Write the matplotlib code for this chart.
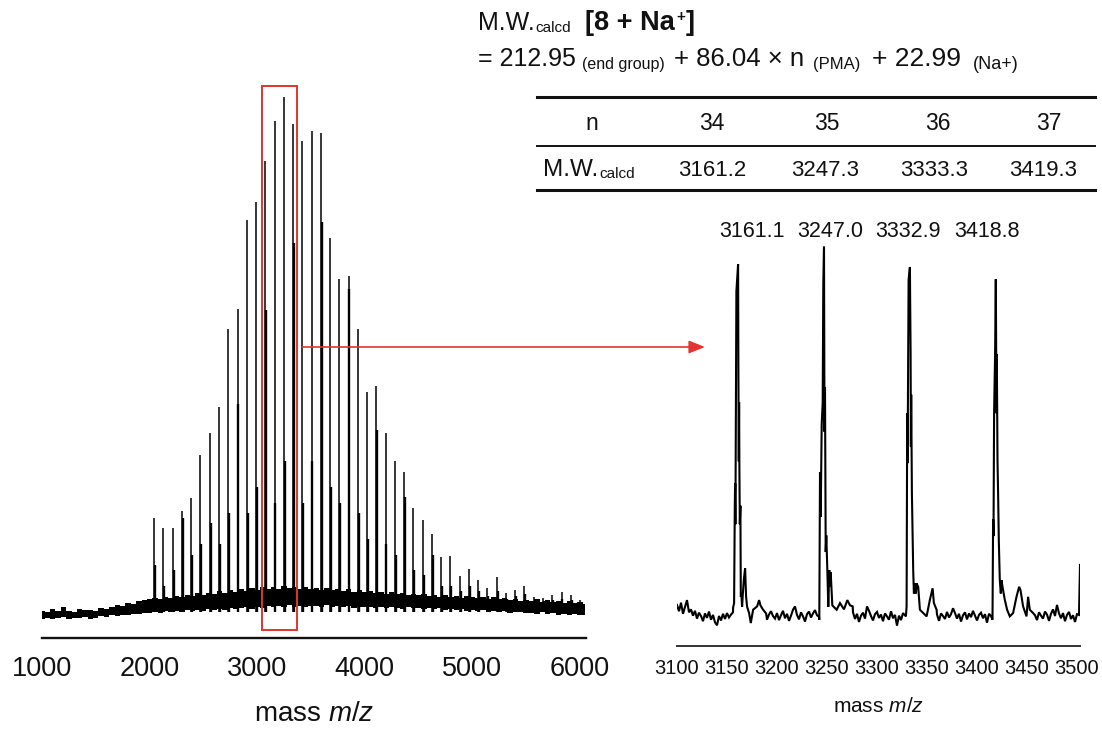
import numpy as np
import matplotlib
matplotlib.use("Agg")
import matplotlib.pyplot as plt
from matplotlib.patches import Rectangle, FancyArrowPatch
from matplotlib.lines import Line2D

# ---------------------------------------------------------------- data
# [8 + Na+] series: M = end group + n * repeat unit + Na+
end_group = 212.95
pma_unit = 86.04
na_ion = 22.99

# full spectrum: degree of polymerisation and relative intensities (%)
n_left = list(range(21, 68))
left_height = [19.0, 17.2, 17.1, 20.4, 22.8, 31.2, 35.4, 40.4, 55.4, 59.2,
               76.3, 79.8, 87.7, 95.5, 100.0, 94.8, 91.6, 93.4, 93.1, 72.9,
               65.0, 65.6, 55.4, 43.2, 44.5, 35.4, 30.1, 27.8, 20.9, 18.7,
               16.0, 11.5, 11.7, 7.8, 9.2, 7.2, 5.5, 7.6, 4.6, 5.2,
               6.0, 3.9, 3.6, 4.2, 4.9, 4.2, 3.3]
# broadened lower part of each peak (isotope envelope)
left_body = [10.0, 6.0, 9.0, 19.0, 12.0, 14.0, 18.0, 14.0, 20.0, 41.0,
             20.0, 25.0, 59.0, 22.0, 30.0, 72.0, 22.0, 30.0, 76.0, 25.0,
             22.0, 63.0, 20.0, 15.0, 36.0, 14.0, 12.0, 23.0, 9.0, 8.0,
             12.0, 6.0, 6.0, 5.0, 6.0, 5.0, 4.0, 5.0, 3.5, 4.0,
             4.5, 3.0, 3.0, 3.2, 3.5, 3.2, 2.8]

# chemical-noise band of the full spectrum (upper / lower envelope, %)
band_mz = np.arange(1000, 6051, 50)
band_upper = [1.2, 0.9, 1.5, 1.1, 2.0, 1.2, 1.0, 1.5, 1.3, 1.4, 1.2,
              1.7, 1.5, 1.9, 2.3, 2.1, 2.7, 2.5, 3.0, 3.2, 3.5,
              3.7, 3.4, 3.9, 3.6, 4.1, 3.8, 4.3, 4.0, 4.6, 4.2,
              4.7, 4.4, 5.0, 4.6, 5.2, 4.8, 5.4, 5.0, 5.6, 5.2,
              5.7, 5.3, 5.8, 5.4, 5.9, 5.5, 5.8, 5.4, 5.7, 5.3,
              5.6, 5.2, 5.5, 5.1, 5.4, 5.0, 5.3, 4.9, 5.2, 4.8,
              5.0, 4.7, 4.9, 4.5, 4.8, 4.4, 4.6, 4.3, 4.5, 4.2,
              4.4, 4.1, 4.3, 3.9, 4.2, 3.8, 4.1, 3.7, 4.0, 3.8,
              3.6, 3.9, 3.5, 3.8, 3.4, 3.6, 3.3, 3.5, 3.1, 3.3,
              3.0, 3.4, 2.9, 3.2, 2.8, 3.1, 2.7, 3.0, 2.6, 2.8, 2.5]
band_lower = [-0.3, -0.1, -0.4, -0.2, 0.0, -0.3, -0.1, -0.2, 0.0, -0.3, -0.1,
              0.1, 0.0, 0.3, 0.2, 0.4, 0.3, 0.6, 0.5, 0.8, 0.7,
              0.9, 0.8, 1.1, 0.9, 1.2, 1.0, 1.3, 1.1, 1.4, 1.2,
              1.5, 1.3, 1.6, 1.4, 1.8, 1.5, 1.7, 1.9, 1.6, 2.0,
              1.8, 2.1, 1.9, 2.2, 2.0, 2.3, 2.0, 2.2, 1.9, 2.1,
              2.2, 2.0, 2.3, 1.9, 2.1, 2.0, 2.2, 1.8, 2.0, 1.9,
              2.0, 1.8, 1.9, 1.7, 2.0, 1.8, 1.6, 1.9, 1.7, 1.8,
              1.6, 1.8, 1.5, 1.7, 1.4, 1.6, 1.3, 1.5, 1.2, 1.4,
              1.1, 1.3, 1.0, 1.2, 0.9, 1.1, 0.8, 1.0, 0.9, 0.7,
              0.8, 0.6, 0.9, 0.5, 0.7, 0.4, 0.6, 0.3, 0.5, 0.4, 0.3]

# zoomed region: observed peak masses and peak profiles (offset Da, %)
obs_mass = [3161.1, 3247.0, 3332.9, 3418.8]
prof_off = [
    [-5.0, -4.0, -3.3, -3.0, -2.7, -1.7, 0.0, 0.3, 0.7, 1.0, 1.3, 1.7, 2.3, 2.7,
     3.3, 4.0, 4.7, 5.7, 7.0, 8.0, 9.0, 11.0, 12.7, 15.0, 19.0, 21.0, 22.3, 25.0, 28.0],
    [-4.7, -4.0, -3.3, -2.3, -1.3, -0.7, 0.0, 0.5, 1.0, 1.7, 2.3, 3.3, 4.3,
     5.3, 6.0, 6.7, 7.7, 8.3, 9.3, 12.7, 16.0, 20.0, 23.3, 26.0, 28.7],
    [-4.0, -3.3, -2.7, -2.3, -1.3, 0.0, 0.7, 1.0, 1.3, 2.0, 3.3, 4.0,
     5.0, 6.0, 6.7, 8.3, 10.0, 13.3, 16.7, 20.0, 22.7, 24.0, 26.7],
    [-3.3, -2.7, -2.3, -1.7, -0.7, 0.0, 0.7, 1.0, 1.7, 2.3, 3.0, 4.0, 5.0, 5.7,
     6.7, 9.0, 11.3, 14.0, 17.3, 20.7, 23.3, 24.7, 27.3, 30.7, 32.3, 34.0, 37.3],
]
prof_int = [
    [2.5, 3.7, 30.0, 36.0, 25.0, 88.0, 95.3, 65.0, 42.0, 58.0, 40.0, 25.0, 30.0, 5.4,
     6.0, 2.7, 6.0, 9.9, 13.1, 5.4, 2.7, 1.0, -1.7, 1.9, 2.8, 4.5, 3.1, 1.9, 0.9],
    [-0.8, 39.0, 27.0, 52.0, 58.0, 90.0, 100.0, 50.0, 62.0, 17.5, 22.0, 13.0, 2.7,
     12.6, 8.1, 12.0, 6.3, 3.1, 2.8, 1.9, 3.7, 2.0, 4.5, 3.1, 2.8],
    [0.1, 2.8, 55.0, 41.5, 91.0, 94.5, 71.2, 46.0, 60.0, 33.4, 12.6, 6.3,
     9.0, 6.3, 9.0, 8.1, 1.9, 1.0, 0.1, 4.6, 7.7, 3.7, 1.9],
    [-0.8, 26.3, 21.8, 55.0, 71.2, 91.2, 55.0, 71.0, 42.4, 33.4, 20.8, 9.9, 6.3, 9.9,
     8.1, 4.6, 1.9, 0.1, 1.0, 5.4, 8.1, 7.2, 2.8, 0.1, 5.4, 1.9, 1.0],
]
# baseline noise of the zoomed region, every 2 Da from 3100 to 3502
noise_mz = np.arange(3100, 3503, 2)
noise_int = [3.2, 1.5, 3.8, 0.8, 2.6, 4.5, 1.2, 2.0, 0.3, 1.6,
             -0.5, 1.1, 0.2, -1.2, 0.9, -0.3, 1.4, -0.8, 0.5, -1.5,
             -2.3, 0.2, -1.0, 0.8, -0.6, 1.0, -0.2, 0.6, 1.2, 2.0,
             0.0, 0.0, 0.0, 0.0, 0.0, 0.0, 0.0, 0.0, 0.0, 0.0,
             0.0, 0.0, 0.0, 0.0, 0.0, -0.8, 0.6, 1.5, 0.2, -0.5,
             1.0, -0.9, 0.4, 1.6, -0.4, 0.8, -1.1, 0.3, 1.9, 2.8,
             0.5, -0.7, 1.2, 0.1, -1.3, 0.7, 1.4, -0.2, 0.9, 1.8,
             0.4, 0.0, 0.0, 0.0, 0.0, 0.0, 0.0, 0.0, 0.0, 0.0,
             0.0, 0.0, 0.0, 0.0, 0.0, 0.0, 0.0, 0.0, 1.2, -0.6,
             0.8, -1.4, 0.3, 1.1, -0.5, 2.8, 1.6, 0.2, -1.0, 0.7,
             1.3, -0.3, 0.6, -1.2, 0.9, 0.1, -0.8, 1.5, -0.4, 0.5,
             -2.4, 0.3, -0.9, 1.0, 0.4, 0.0, 0.0, 0.0, 0.0, 0.0,
             0.0, 0.0, 0.0, 0.0, 0.0, 0.0, 0.0, 0.0, 0.0, 0.0,
             0.6, -1.1, 0.9, 0.2, -0.6, 1.3, -0.2, 0.7, 2.3, 1.0,
             -0.5, 0.8, -1.3, 0.4, 1.2, -0.7, 0.9, -0.1, 1.6, 0.3,
             -1.0, 0.5, 1.1, -0.4, 0.7, -1.6, 0.8, 0.2, 0.0, 0.0,
             0.0, 0.0, 0.0, 0.0, 0.0, 0.0, 0.0, 0.0, 0.0, 0.0,
             0.0, 0.0, 0.0, 0.0, 0.0, 0.0, 0.0, 0.0, 0.0, 0.4,
             -0.9, 1.2, 0.3, -0.5, 1.4, 0.6, -1.1, 0.8, 2.0, 0.2,
             3.2, 0.9, -0.4, 1.0, -1.2, 0.5, 1.3, -0.6, 0.4, -1.4,
             0.7, 0.5]
end_mz = [3503.0]
end_int = [14.0]

# table contents
table_n = ["34", "35", "36", "37"]
table_mw = ["3161.2", "3247.3", "3333.3", "3419.3"]
left_ticks = [1000, 2000, 3000, 4000, 5000, 6000]
right_ticks = [3100, 3150, 3200, 3250, 3300, 3350, 3400, 3450, 3500]

# ---------------------------------------------------------------- style
W, H = 1102, 729
FONT = "Liberation Sans"
plt.rcParams["font.family"] = [FONT, "DejaVu Sans"]
plt.rcParams["mathtext.fontset"] = "custom"
plt.rcParams["mathtext.rm"] = FONT
plt.rcParams["mathtext.it"] = FONT + ":italic"
RED = "#e3342f"
INK = "#111111"

fig = plt.figure(figsize=(W / 100, H / 100), dpi=100)
fig.patch.set_facecolor("white")
renderer = fig.canvas.get_renderer()


def rect(l, t, r, b):
    return [l / W, 1 - b / H, (r - l) / W, (b - t) / H]


def fxy(x, y):
    return x / W, 1 - y / H


def chain(x0, base, parts):
    """Write text pieces one after another on a common baseline."""
    x = x0
    for txt, size, weight, dy, gap in parts:
        x += gap
        t = fig.text(*fxy(x, base + dy), txt, fontsize=size, fontweight=weight,
                     ha="left", va="baseline", color=INK)
        x += t.get_window_extent(renderer).width
    return x


def style_axis(ax, lw, col):
    for s in ("left", "right", "top"):
        ax.spines[s].set_visible(False)
    ax.spines["bottom"].set_linewidth(lw)
    ax.spines["bottom"].set_color(col)
    ax.set_yticks([])
    ax.set_facecolor("none")


# ---------------------------------------------------------------- full spectrum
axL = fig.add_axes(rect(42, 80, 586, 638))
style_axis(axL, 1.7, INK)
axL.set_xlim(1000, 6056)
axL.set_ylim(-4.04, 103.3)

mz_left = np.array([end_group + pma_unit * n + na_ion for n in n_left])
axL.fill_between(band_mz, band_lower, band_upper, step="mid", color="black", lw=0)
axL.vlines(mz_left + 8, 1.0, left_body, color="black", lw=1.7)
axL.vlines(mz_left, 1.0, left_height, color="black", lw=1.1)

axL.set_xticks(left_ticks)
axL.set_xticklabels([str(v) for v in left_ticks])
axL.tick_params(axis="x", length=0, pad=13, labelsize=19.5, labelcolor=INK)

# highlighted window and pointer to the zoomed spectrum
axL.add_patch(Rectangle((3045, -2.5), 325, 104.6, fill=False, ec=RED, lw=1.4,
                        clip_on=False))
fig.add_artist(FancyArrowPatch(fxy(302, 347), fxy(705, 347),
                               transform=fig.transFigure,
                               arrowstyle="-|>,head_length=0.75,head_width=0.3",
                               mutation_scale=13, color=RED, lw=1.2,
                               shrinkA=0, shrinkB=0))

fig.text(*fxy(314, 721), "mass $\\mathit{m/z}$", fontsize=20, ha="center",
         va="baseline", color=INK)

# ---------------------------------------------------------------- zoomed spectrum
axR = fig.add_axes(rect(677, 240, 1080, 646))
style_axis(axR, 1.4, "#333333")
axR.set_xlim(3100, 3503)
axR.set_ylim(-7.9, 101.8)

windows = [(m0 + off[0], m0 + off[-1]) for m0, off in zip(obs_mass, prof_off)]
pts = [(m, v) for m, v in zip(noise_mz, noise_int)
       if not any(a <= m <= b for a, b in windows)]
for m0, off, val in zip(obs_mass, prof_off, prof_int):
    pts += [(m0 + o, v) for o, v in zip(off, val)]
pts += list(zip(end_mz, end_int))
pts.sort()
trace_mz, trace_int = zip(*pts)
axR.plot(trace_mz, trace_int, color="black", lw=1.5, solid_joinstyle="miter")

axR.set_xticks(right_ticks)
axR.set_xticklabels([str(v) for v in right_ticks])
axR.tick_params(axis="x", length=0, pad=9, labelsize=14.5, labelcolor=INK)

fig.text(*fxy(878.5, 712), "mass $\\mathit{m/z}$", fontsize=15, ha="center",
         va="baseline", color=INK)

# observed masses above the peaks
for x, lab in zip([752, 830, 908, 987], obs_mass):
    fig.text(*fxy(x, 237), f"{lab:.1f}", fontsize=15.5, ha="center",
             va="baseline", color=INK)

# ---------------------------------------------------------------- formula
chain(478, 30, [("M.W.", 18, "normal", 0, 0),
                ("calcd", 11, "normal", 2, 1),
                ("[8 + Na", 19.5, "bold", 0, 14),
                ("+", 11, "bold", -9, 1),
                ("]", 19.5, "bold", 0, 1)])
chain(478, 66, [("= 212.95", 18, "normal", 0, 0),
                ("(end group)", 11.5, "normal", 3, 6),
                ("+ 86.04 × n", 18.5, "normal", 0, 9),
                ("(PMA)", 12, "normal", 3, 9),
                ("+ 22.99", 19, "normal", 0, 12),
                ("(Na+)", 13, "normal", 3, 12)])

# ---------------------------------------------------------------- table
for y, lw in [(97, 2.2), (146, 1.4), (190, 2.2)]:
    fig.add_artist(Line2D([537 / W, 1095 / W], [1 - y / H] * 2, lw=lw, color=INK))

fig.text(*fxy(592, 130), "n", fontsize=16.5, ha="center", va="baseline", color=INK)
for x, lab in zip([712, 827, 938, 1049], table_n):
    fig.text(*fxy(x, 130), lab, fontsize=16.5, ha="center", va="baseline", color=INK)
chain(543, 176, [("M.W.", 17.5, "normal", 0, 0), ("calcd", 11, "normal", 2, 1)])
for x, lab in zip([712, 825, 934, 1043], table_mw):
    fig.text(*fxy(x, 176), lab, fontsize=16, ha="center", va="baseline", color=INK)

fig.savefig("out.png", dpi=100, facecolor="white")
